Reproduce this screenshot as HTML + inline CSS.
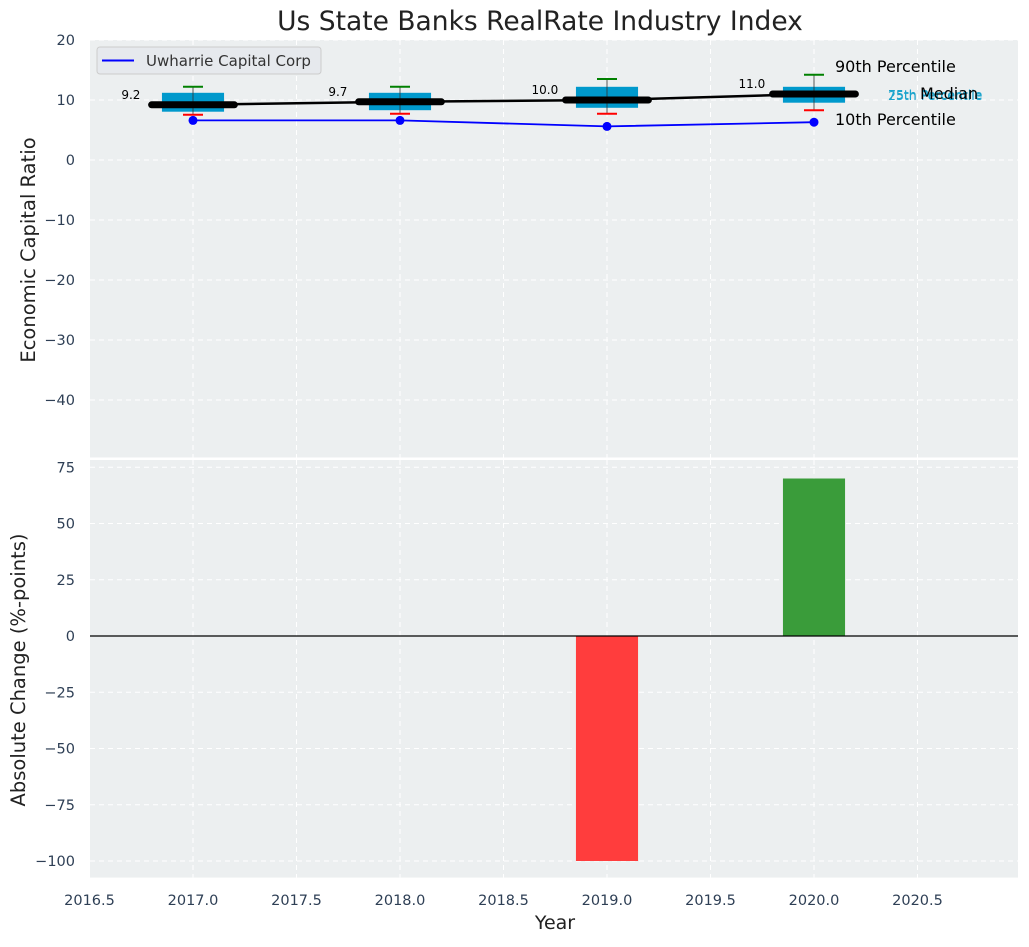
<!DOCTYPE html>
<html><head><meta charset="utf-8"><style>
body{margin:0;background:#fff;}
svg{font-family:"DejaVu Sans","Liberation Sans",sans-serif;}
</style></head><body>
<svg id="c" width="1029" height="942" xmlns="http://www.w3.org/2000/svg"></svg>
<script>
const years=[2017,2018,2019,2020];
const p10=[7.55,7.7,7.7,8.3];
const p25=[8.05,8.3,8.7,9.55];
const median=[9.2,9.7,10.0,11.0];
const p75=[11.2,11.2,12.2,12.2];
const p90=[12.2,12.2,13.5,14.2];
const company=[6.6,6.6,5.6,6.3];
const change=[0,0,-100,70];
const xTicks=[2016.5,2017.0,2017.5,2018.0,2018.5,2019.0,2019.5,2020.0,2020.5];
const yTopTicks=[20,10,0,-10,-20,-30,-40];
const yBotTicks=[75,50,25,0,-25,-50,-75,-100];

const NS='http://www.w3.org/2000/svg';
const svg=document.getElementById('c');
function mk(t,a,p){const e=document.createElementNS(NS,t);for(const k in a)e.setAttribute(k,a[k]);(p||svg).appendChild(e);return e;}
const L=90,R=1018;
const X=v=>193+207*(v-2017);
const YT=v=>160-6*v;
const YB=v=>636-2.25*v;
const T0=40,T1=457.5,B0=460,B1=877.6;

let e=mk('rect',{x:L,y:T0,width:R-L,height:T1-T0,fill:'#eceff0'});

e=mk('rect',{x:L,y:B0,width:R-L,height:B1-B0,fill:'#eceff0'});


xTicks.forEach(t=>{
  mk('line',{x1:X(t),x2:X(t),y1:T0,y2:T1,stroke:'#fff','stroke-dasharray':'5,4','stroke-width':1});
  mk('line',{x1:X(t),x2:X(t),y1:B0,y2:B1,stroke:'#fff','stroke-dasharray':'5,4','stroke-width':1});
  e=mk('text',{x:X(t),y:905,'text-anchor':'middle','font-size':14.5,fill:'#2e3f55'});e.textContent=t.toFixed(1);
  
});
yTopTicks.forEach(t=>{
  mk('line',{x1:L,x2:R,y1:YT(t),y2:YT(t),stroke:'#fff','stroke-dasharray':'5,4','stroke-width':1});
  e=mk('text',{x:75,y:YT(t)+5,'text-anchor':'end','font-size':14.5,fill:'#2e3f55'});e.textContent=String(t).replace('-','\u2212');
  
});
yBotTicks.forEach(t=>{
  mk('line',{x1:L,x2:R,y1:YB(t),y2:YB(t),stroke:'#fff','stroke-dasharray':'5,4','stroke-width':1});
  e=mk('text',{x:75,y:YB(t)+5,'text-anchor':'end','font-size':14.5,fill:'#2e3f55'});e.textContent=String(t).replace('-','\u2212');
  
});

years.forEach((y,i)=>{
  const cx=X(y),hw=207*0.15;
  e=mk('rect',{x:cx-hw,y:YT(p75[i]),width:2*hw,height:YT(p25[i])-YT(p75[i]),fill:'#0099cc'});
  
  mk('line',{x1:cx,x2:cx,y1:YT(p90[i]),y2:YT(p10[i]),stroke:'#333','stroke-width':0.8});
  e=mk('line',{x1:cx-10,x2:cx+10,y1:YT(p90[i]),y2:YT(p90[i]),stroke:'green','stroke-width':2});
  
  e=mk('line',{x1:cx-10,x2:cx+10,y1:YT(p10[i]),y2:YT(p10[i]),stroke:'red','stroke-width':2});
  
});
e=mk('polyline',{points:years.map((y,i)=>X(y)+','+YT(median[i])).join(' '),fill:'none',stroke:'#000','stroke-width':2.5});

years.forEach((y,i)=>{
  const cx=X(y),hw=207*0.2;
  e=mk('line',{x1:cx-hw,x2:cx+hw,y1:YT(median[i]),y2:YT(median[i]),stroke:'#000','stroke-width':7,'stroke-linecap':'round'});
  
  e=mk('text',{x:cx-207*0.3,y:YT(median[i])-6,'text-anchor':'middle','font-size':12,fill:'#000'});e.textContent=median[i].toFixed(1);
  
});
e=mk('polyline',{points:years.map((y,i)=>X(y)+','+YT(company[i])).join(' '),fill:'none',stroke:'blue','stroke-width':1.8});

years.forEach((y,i)=>{
  e=mk('circle',{cx:X(y),cy:YT(company[i]),r:4.5,fill:'blue'});
  
});
[['90th Percentile',835,72,'#000',16],['75th Percentile',888,99,'#1aa3cc',12.5],['25th Percentile',888,100,'#1aa3cc',12.5],['Median',920,99,'#000',16],['10th Percentile',835,125,'#000',16]].forEach(a=>{
  e=mk('text',{x:a[1],y:a[2],'font-size':a[4],fill:a[3]});e.textContent=a[0];
  
});
const lg=mk('g',{});

mk('rect',{x:97,y:47,width:224,height:27,rx:3,fill:'#e6e9ed',stroke:'#ccc'},lg);
mk('line',{x1:102,x2:134,y1:60.5,y2:60.5,stroke:'blue','stroke-width':2},lg);
e=mk('text',{x:146,y:66,'font-size':15,fill:'#333'},lg);e.textContent='Uwharrie Capital Corp';

years.forEach((y,i)=>{
  if(change[i]===0)return;
  const cx=X(y),hw=207*0.15;
  const y0=YB(Math.max(0,change[i])),y1=YB(Math.min(0,change[i]));
  e=mk('rect',{x:cx-hw,y:y0,width:2*hw,height:y1-y0,fill:change[i]<0?'#ff3d3d':'#3a9c3a'});
  
});
e=mk('line',{x1:L,x2:R,y1:YB(0),y2:YB(0),stroke:'#000','stroke-width':1.2});


e=mk('text',{x:540,y:30,'text-anchor':'middle','font-size':26.5,fill:'#222'});e.textContent='Us State Banks RealRate Industry Index';

e=mk('text',{x:555,y:929,'text-anchor':'middle','font-size':19,fill:'#222'});e.textContent='Year';

e=mk('text',{x:0,y:0,'text-anchor':'middle','font-size':19.5,fill:'#222',transform:'translate(35,250) rotate(-90)'});e.textContent='Economic Capital Ratio';

e=mk('text',{x:0,y:0,'text-anchor':'middle','font-size':19.5,fill:'#222',transform:'translate(25,670) rotate(-90)'});e.textContent='Absolute Change (%-points)';

</script>
</body></html>
